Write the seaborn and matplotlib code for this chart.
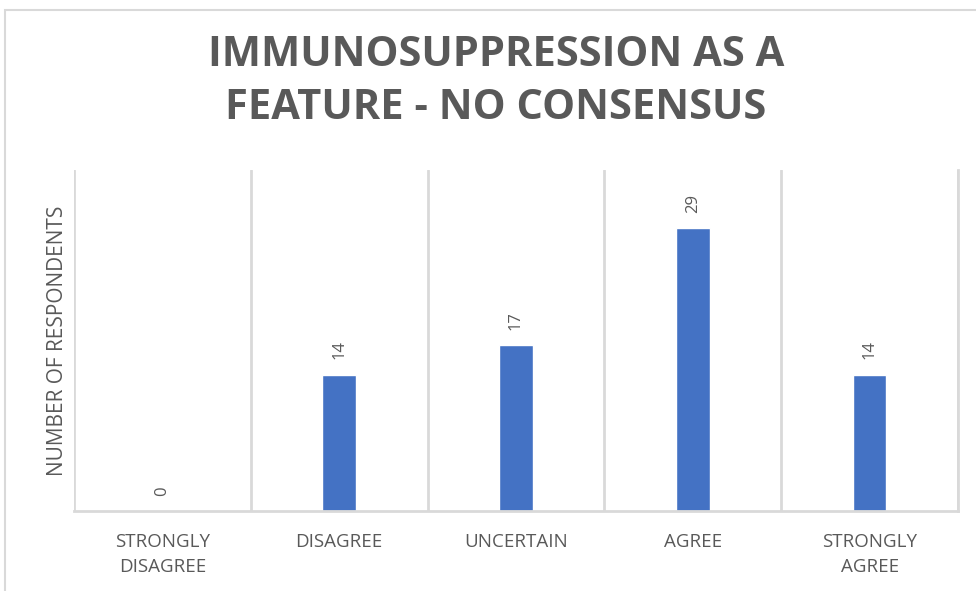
import matplotlib
matplotlib.use('Agg')
import matplotlib.pyplot as plt
import seaborn as sns
import numpy as np
import pandas as pd
from matplotlib.patches import Rectangle

# Data
categories = ['STRONGLY\nDISAGREE', 'DISAGREE', 'UNCERTAIN', 'AGREE', 'STRONGLY\nAGREE']
respondents = [0, 14, 17, 29, 14]

df = pd.DataFrame({'response': categories, 'count': respondents})

sns.set_style('white')
plt.rcParams['font.family'] = ['Open Sans', 'DejaVu Sans']

gray_text = '#595959'
grid_col = '#d9d9d9'

fig = plt.figure(figsize=(9.76, 5.91), dpi=100)
ax = fig.add_axes([74 / 976, 1 - 511 / 591, (958 - 74) / 976, (511 - 170) / 591])

sns.barplot(data=df, x='response', y='count', color='#4472C4', width=0.19,
            saturation=1, ax=ax)

ax.set_xlim(-0.5, 4.5)
ax.set_ylim(0, 35)

# vertical separators between categories
ax.set_xticks(np.arange(-0.5, 5.0, 1.0), minor=True)
ax.grid(which='minor', axis='x', color=grid_col, linewidth=2)
ax.tick_params(which='both', length=0)
ax.set_yticks([])

for s in ['top', 'left']:
    ax.spines[s].set_visible(False)
ax.spines['right'].set_color(grid_col)
ax.spines['right'].set_linewidth(2)
ax.spines['bottom'].set_color(grid_col)
ax.spines['bottom'].set_linewidth(2)

ax.set_xticks(range(len(categories)))
ax.set_xticklabels(categories, color=gray_text, fontsize=13.5, linespacing=1.5)
ax.tick_params(axis='x', pad=16)
ax.set_xlabel('')
ax.set_ylabel('NUMBER OF RESPONDENTS', color=gray_text, fontsize=15, labelpad=4)

ax.bar_label(ax.containers[0], rotation=90, padding=11, color=gray_text, fontsize=12)

fig.text(496 / 976, 1 - 82 / 591, 'IMMUNOSUPPRESSION AS A\nFEATURE - NO CONSENSUS',
         ha='center', va='center', fontsize=30, fontweight='bold', color=gray_text,
         linespacing=1.38)

# chart frame
top = 1 - 10 / 591
frame = Rectangle((5 / 976, -0.2), 1.2, top + 0.2, transform=fig.transFigure,
                  fill=False, edgecolor=grid_col, linewidth=1.5)
fig.patches.append(frame)

fig.savefig('out.png', dpi=100)
